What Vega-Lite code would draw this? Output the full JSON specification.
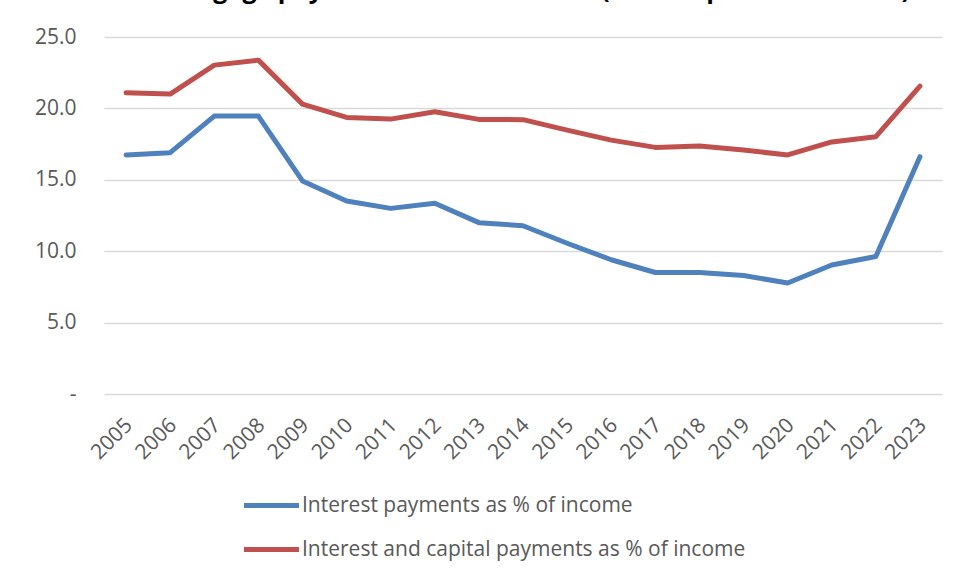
{
  "$schema": "https://vega.github.io/schema/vega-lite/v6.json",
  "autosize": {"type": "none"},
  "padding": {"left": 104, "top": 37, "right": 19, "bottom": 184},
  "width": 838,
  "height": 357,
  "background": "white",
  "title": {
    "text": "Mortgage payments as % of income (% of disposable income)",
    "fontSize": 25,
    "font": "Open Sans",
    "fontWeight": "bold",
    "color": "#000000",
    "anchor": "middle",
    "baseline": "alphabetic",
    "offset": 0,
    "dy": -3,
    "dx": 8
  },
  "data": {
    "values": [
      {"year": "2005", "series": "Interest payments as % of income", "value": 16.74},
      {"year": "2006", "series": "Interest payments as % of income", "value": 16.9},
      {"year": "2007", "series": "Interest payments as % of income", "value": 19.46},
      {"year": "2008", "series": "Interest payments as % of income", "value": 19.46},
      {"year": "2009", "series": "Interest payments as % of income", "value": 14.92},
      {"year": "2010", "series": "Interest payments as % of income", "value": 13.52},
      {"year": "2011", "series": "Interest payments as % of income", "value": 13.0},
      {"year": "2012", "series": "Interest payments as % of income", "value": 13.36},
      {"year": "2013", "series": "Interest payments as % of income", "value": 12.0},
      {"year": "2014", "series": "Interest payments as % of income", "value": 11.78},
      {"year": "2015", "series": "Interest payments as % of income", "value": 10.56},
      {"year": "2016", "series": "Interest payments as % of income", "value": 9.4},
      {"year": "2017", "series": "Interest payments as % of income", "value": 8.51},
      {"year": "2018", "series": "Interest payments as % of income", "value": 8.51},
      {"year": "2019", "series": "Interest payments as % of income", "value": 8.3},
      {"year": "2020", "series": "Interest payments as % of income", "value": 7.77},
      {"year": "2021", "series": "Interest payments as % of income", "value": 9.03},
      {"year": "2022", "series": "Interest payments as % of income", "value": 9.63},
      {"year": "2023", "series": "Interest payments as % of income", "value": 16.62},
      {"year": "2005", "series": "Interest and capital payments as % of income", "value": 21.09},
      {"year": "2006", "series": "Interest and capital payments as % of income", "value": 21.0},
      {"year": "2007", "series": "Interest and capital payments as % of income", "value": 23.03},
      {"year": "2008", "series": "Interest and capital payments as % of income", "value": 23.38},
      {"year": "2009", "series": "Interest and capital payments as % of income", "value": 20.3},
      {"year": "2010", "series": "Interest and capital payments as % of income", "value": 19.37},
      {"year": "2011", "series": "Interest and capital payments as % of income", "value": 19.25},
      {"year": "2012", "series": "Interest and capital payments as % of income", "value": 19.77},
      {"year": "2013", "series": "Interest and capital payments as % of income", "value": 19.23},
      {"year": "2014", "series": "Interest and capital payments as % of income", "value": 19.21},
      {"year": "2015", "series": "Interest and capital payments as % of income", "value": 18.48},
      {"year": "2016", "series": "Interest and capital payments as % of income", "value": 17.78},
      {"year": "2017", "series": "Interest and capital payments as % of income", "value": 17.27},
      {"year": "2018", "series": "Interest and capital payments as % of income", "value": 17.36},
      {"year": "2019", "series": "Interest and capital payments as % of income", "value": 17.08},
      {"year": "2020", "series": "Interest and capital payments as % of income", "value": 16.74},
      {"year": "2021", "series": "Interest and capital payments as % of income", "value": 17.65},
      {"year": "2022", "series": "Interest and capital payments as % of income", "value": 18.02},
      {"year": "2023", "series": "Interest and capital payments as % of income", "value": 21.56}
    ]
  },
  "mark": {"type": "line", "strokeWidth": 5, "strokeCap": "round", "strokeJoin": "round"},
  "encoding": {
    "x": {
      "field": "year",
      "type": "ordinal",
      "scale": {"padding": 0.5},
      "axis": {
        "title": null,
        "labelAngle": -45,
        "labelAlign": "right",
        "labelBaseline": "top",
        "labelFont": "Open Sans",
        "labelFontSize": 21,
        "labelColor": "#595959",
        "labelPadding": 20,
        "labelOffset": -5,
        "ticks": false,
        "domain": false,
        "grid": false
      }
    },
    "y": {
      "field": "value",
      "type": "quantitative",
      "scale": {"domain": [0, 25], "nice": false},
      "axis": {
        "title": null,
        "values": [0, 5, 10, 15, 20, 25],
        "labelExpr": "datum.value == 0 ? '-\u00a0\u00a0\u00a0' : format(datum.value, '.1f')",
        "labelFont": "Open Sans",
        "labelFontSize": 21,
        "labelColor": "#595959",
        "labelPadding": 28,
        "ticks": false,
        "domain": false,
        "grid": true,
        "gridColor": "#d9d9d9",
        "gridWidth": 1.5
      }
    },
    "color": {
      "field": "series",
      "type": "nominal",
      "scale": {
        "domain": ["Interest payments as % of income", "Interest and capital payments as % of income"],
        "range": ["#4F81BD", "#C0504D"]
      },
      "legend": {
        "title": null,
        "orient": "none",
        "legendX": 151,
        "legendY": 452,
        "direction": "vertical",
        "symbolType": "M-2,0H2",
        "symbolSize": 756,
        "symbolStrokeWidth": 5,
        "symbolFillColor": "transparent",
        "labelFont": "Open Sans",
        "labelFontSize": 21,
        "labelColor": "#595959",
        "labelOffset": 14,
        "labelLimit": 0,
        "rowPadding": 17
      }
    }
  },
  "config": {"view": {"stroke": null}}
}
